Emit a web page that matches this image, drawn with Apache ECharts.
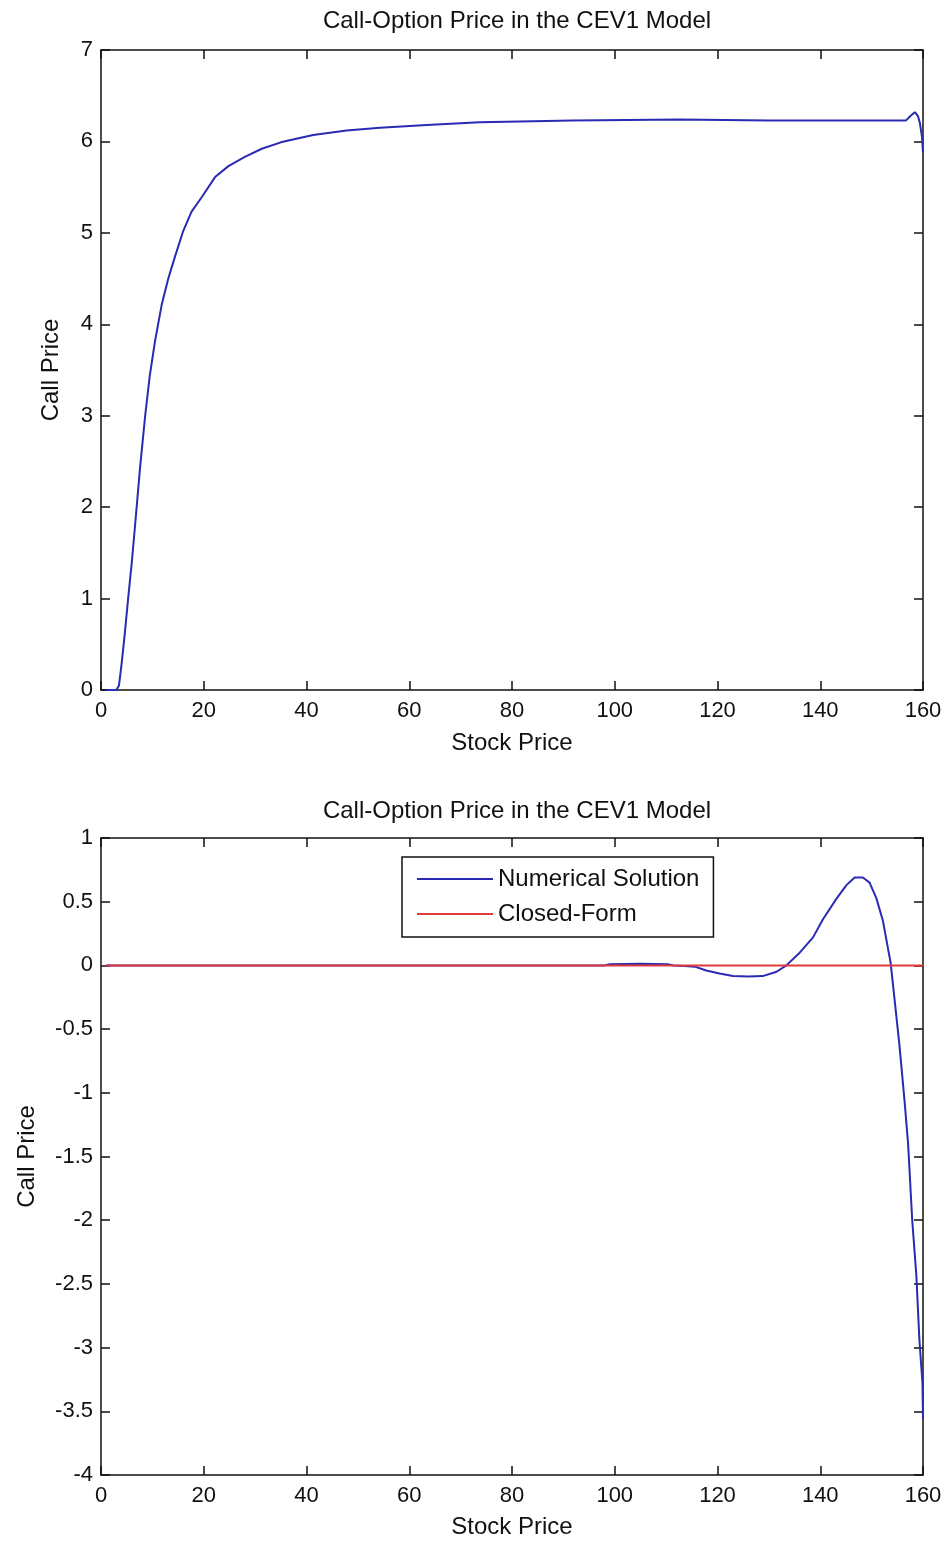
<!DOCTYPE html>
<html>
<head>
<meta charset="utf-8">
<script src="https://cdn.jsdelivr.net/npm/echarts@6/dist/echarts.min.js"></script>
<style>
  html, body { margin: 0; padding: 0; background: #fff; }
  #chart { width: 948px; height: 1543px; }
</style>
</head>
<body>
<div id="chart"></div>
<script>
// Call-option price in the CEV1 model, two stacked panels
const xTicks = [0, 20, 40, 60, 80, 100, 120, 140, 160]

// top panel: numerical solution
const stockTop = [1, 2, 3, 3.5, 4, 4.6, 5.3, 6, 6.6, 7.6, 8.6, 9.5, 10.5, 11.8, 13.1, 14.4, 16, 17.6, 19.6,
    22.2, 24.8, 28, 31.3, 35, 38, 41.3, 47.8, 54.3, 63.4, 73.7, 91.8, 112.6, 130, 156.7, 157.6, 158.4,
    159, 159.4, 159.8, 160]
const callTop = [0, 0, 0, 0.05, 0.28, 0.6, 1.01, 1.4, 1.78, 2.43, 3.0, 3.44, 3.81, 4.21, 4.5, 4.74, 5.02, 5.23, 5.39,
    5.61, 5.73, 5.83, 5.92, 5.99, 6.03, 6.07, 6.12, 6.15, 6.18, 6.21, 6.23, 6.24, 6.23, 6.23, 6.28, 6.32,
    6.28, 6.2, 6.05, 5.88]

// bottom panel: numerical solution vs closed form
const stockBottom = [1, 20, 40, 60, 80, 98, 99, 105, 110.3, 111.5, 113.6, 115.6, 117.8, 120.4, 123, 126, 128.8,
    131.5, 133.4, 136, 138.6, 140.5, 143.1, 145.1, 146.7, 148.3, 149.6, 150.9, 152.2, 153.7, 154.5, 155.4,
    156.4, 157.1, 157.9, 158.7, 159.3, 159.9, 160]
const numericalBottom = [0, 0, 0, 0, 0, 0, 0.01, 0.012, 0.01, 0, -0.005, -0.01, -0.04, -0.063, -0.084, -0.088, -0.084,
    -0.05, 0, 0.1, 0.22, 0.36, 0.52, 0.63, 0.69, 0.69, 0.65, 0.53, 0.35, 0.02, -0.28, -0.62,
    -1.06, -1.4, -2.0, -2.43, -2.94, -3.28, -3.56]
const stockClosed = [1, 160]
const closedForm = [0, 0]

const pairs = (xs, ys) => xs.map((x, i) => [x, ys[i]])

const FONT = 'Liberation Sans, Arial, sans-serif'
const INK = '#111'
const BLUE = '#2a2ab4'
const RED = '#e03a3a'

function boxAxes(grid, dim, min, max, interval, opts) {
    // main axis with labels + mirrored axis with inward ticks only
    const base = {
        gridIndex: grid,
        type: 'value',
        min: min,
        max: max,
        interval: interval,
        splitLine: { show: false },
        axisLine: { onZero: false, lineStyle: { color: INK, width: 1.5 } },
        axisTick: { inside: true, length: 9, lineStyle: { color: INK, width: 1.5 } },
    }
    const main = Object.assign({}, base, opts, {
        axisLabel: { color: INK, fontFamily: FONT, fontSize: 22, margin: dim === 'x' ? 10 : 8 },
        nameTextStyle: { color: INK, fontFamily: FONT, fontSize: 24 },
    })
    const mirror = Object.assign({}, base, {
        position: dim === 'x' ? 'top' : 'right',
        axisLabel: { show: false },
    })
    return [main, mirror]
}

const titleStyle = { color: INK, fontFamily: FONT, fontSize: 24, fontWeight: 'normal' }

const chart = echarts.init(document.getElementById('chart'))
const option = {
    backgroundColor: '#fff',
    animation: false,
    title: [
        { text: 'Call-Option Price in the CEV1 Model', left: 512, textAlign: 'center', top: 4, textStyle: titleStyle },
        { text: 'Call-Option Price in the CEV1 Model', left: 512, textAlign: 'center', top: 794, textStyle: titleStyle },
    ],
    grid: [
        { left: 101, right: 25, top: 50, height: 640 },
        { left: 101, right: 25, top: 838, height: 637 },
    ],
    xAxis: [
        ...boxAxes(0, 'x', 0, 160, 20, { name: 'Stock Price', nameLocation: 'middle', nameGap: 41 }),
        ...boxAxes(1, 'x', 0, 160, 20, { name: 'Stock Price', nameLocation: 'middle', nameGap: 40 }),
    ],
    yAxis: [
        ...boxAxes(0, 'y', 0, 7, 1, { name: 'Call Price', nameLocation: 'middle', nameGap: 38 }),
        ...boxAxes(1, 'y', -4, 1, 0.5, { name: 'Call Price', nameLocation: 'middle', nameGap: 62 }),
    ],
    legend: {
        data: ['Numerical Solution', 'Closed-Form'],
        orient: 'vertical',
        left: 402,
        top: 857,
        backgroundColor: '#fff',
        borderColor: INK,
        borderWidth: 1.5,
        padding: [10, 14, 11, 15],
        icon: 'rect',
        itemWidth: 76,
        itemHeight: 2,
        itemGap: 11,
        textStyle: { color: INK, fontFamily: FONT, fontSize: 24, lineHeight: 24 },
    },
    series: [
        {
            name: 'top',
            type: 'line',
            xAxisIndex: 0,
            yAxisIndex: 0,
            data: pairs(stockTop, callTop),
            symbol: 'none',
            lineStyle: { color: BLUE, width: 2 },
        },
        {
            name: 'Numerical Solution',
            type: 'line',
            xAxisIndex: 2,
            yAxisIndex: 2,
            data: pairs(stockBottom, numericalBottom),
            symbol: 'none',
            itemStyle: { color: BLUE },
            lineStyle: { color: BLUE, width: 2 },
        },
        {
            name: 'Closed-Form',
            type: 'line',
            xAxisIndex: 2,
            yAxisIndex: 2,
            data: pairs(stockClosed, closedForm),
            symbol: 'none',
            itemStyle: { color: RED },
            lineStyle: { color: RED, width: 2 },
        },
    ],
}
chart.setOption(option)
window.addEventListener('resize', () => chart.resize())
</script>
</body>
</html>
